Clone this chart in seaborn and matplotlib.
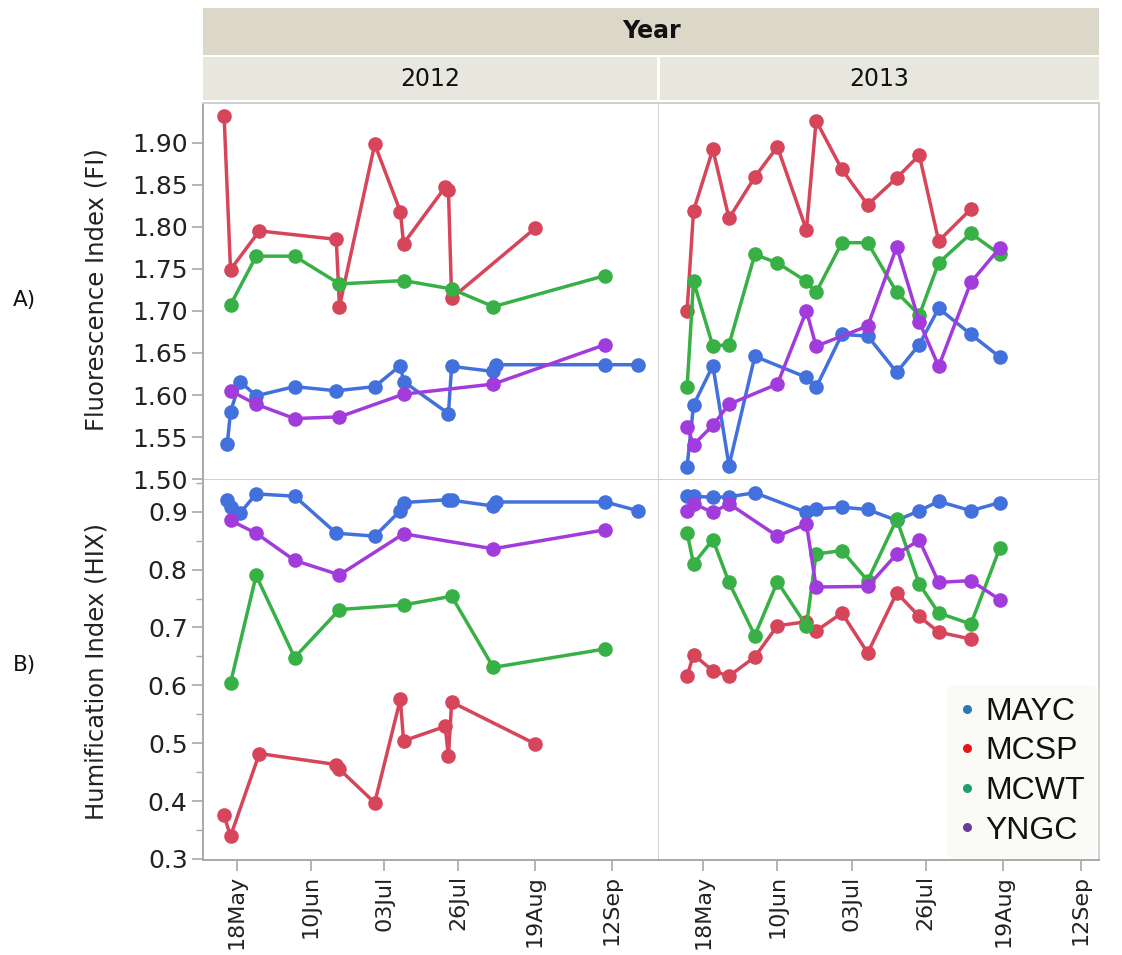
import pandas as pd
import matplotlib
matplotlib.use("Agg")
import matplotlib.pyplot as plt
import matplotlib.dates as mdates
from matplotlib.lines import Line2D
from matplotlib.ticker import MultipleLocator, FormatStrFormatter
import seaborn as sns

sns.set_theme(style="white")
plt.rcParams["font.family"] = ["DejaVu Sans"]

sites = ["MAYC", "MCSP", "MCWT", "YNGC"]
line_colors = {"MAYC": "#4270dc", "MCSP": "#d64559", "MCWT": "#37b045", "YNGC": "#a23bdc"}
legend_colors = {"MAYC": "#2a78b8", "MCSP": "#e8161b", "MCWT": "#1f9e6e", "YNGC": "#6a3d9a"}

# ---- 2012 sampling ----
mayc_2012_dates = ["2012-05-15", "2012-05-16", "2012-05-19", "2012-05-24", "2012-06-05",
                   "2012-06-18", "2012-06-30", "2012-07-08", "2012-07-09", "2012-07-23",
                   "2012-07-24", "2012-08-06", "2012-08-07", "2012-09-10", "2012-09-20"]
mayc_2012_fi = [1.542, 1.580, 1.616, 1.599, 1.610, 1.605, 1.610, 1.635, 1.616, 1.578,
                1.634, 1.628, 1.636, 1.636, 1.636]
mayc_2012_hix = [0.921, 0.908, 0.898, 0.931, 0.927, 0.863, 0.858, 0.902, 0.916, 0.921,
                 0.920, 0.910, 0.917, 0.917, 0.902]

mcsp_2012_dates = ["2012-05-14", "2012-05-16", "2012-05-25", "2012-06-18", "2012-06-19",
                   "2012-06-30", "2012-07-08", "2012-07-09", "2012-07-22", "2012-07-23",
                   "2012-07-24", "2012-08-19"]
mcsp_2012_fi = [1.932, 1.749, 1.795, 1.785, 1.705, 1.898, 1.818, 1.780, 1.847, 1.844,
                1.715, 1.798]
mcsp_2012_hix = [0.375, 0.339, 0.482, 0.463, 0.455, 0.397, 0.576, 0.504, 0.529, 0.477,
                 0.571, 0.499]

mcwt_2012_dates = ["2012-05-16", "2012-05-24", "2012-06-05", "2012-06-19", "2012-07-09",
                   "2012-07-24", "2012-08-06", "2012-09-10"]
mcwt_2012_fi = [1.707, 1.765, 1.765, 1.732, 1.736, 1.726, 1.705, 1.742]
mcwt_2012_hix = [0.604, 0.790, 0.648, 0.731, 0.739, 0.754, 0.631, 0.663]

yngc_2012_dates = ["2012-05-16", "2012-05-24", "2012-06-05", "2012-06-19", "2012-07-09",
                   "2012-08-06", "2012-09-10"]
yngc_2012_fi = [1.605, 1.589, 1.572, 1.574, 1.601, 1.613, 1.660]
yngc_2012_hix = [0.885, 0.863, 0.816, 0.791, 0.862, 0.836, 0.869]

# ---- 2013 sampling ----
mayc_2013_dates = ["2013-05-13", "2013-05-15", "2013-05-21", "2013-05-26", "2013-06-03",
                   "2013-06-19", "2013-06-22", "2013-06-30", "2013-07-08", "2013-07-17",
                   "2013-07-24", "2013-07-30", "2013-08-09", "2013-08-18"]
mayc_2013_fi = [1.515, 1.588, 1.635, 1.516, 1.646, 1.621, 1.609, 1.672, 1.670, 1.627,
                1.660, 1.703, 1.672, 1.645]
mayc_2013_hix = [0.927, 0.927, 0.925, 0.926, 0.933, 0.899, 0.905, 0.908, 0.904, 0.885,
                 0.902, 0.918, 0.902, 0.916]

mcsp_2013_dates = ["2013-05-13", "2013-05-15", "2013-05-21", "2013-05-26", "2013-06-03",
                   "2013-06-10", "2013-06-19", "2013-06-22", "2013-06-30", "2013-07-08",
                   "2013-07-17", "2013-07-24", "2013-07-30", "2013-08-09"]
mcsp_2013_fi = [1.700, 1.819, 1.892, 1.810, 1.859, 1.895, 1.796, 1.926, 1.868, 1.826,
                1.858, 1.885, 1.783, 1.821]
mcsp_2013_hix = [0.616, 0.653, 0.625, 0.616, 0.649, 0.703, 0.710, 0.694, 0.725, 0.656,
                 0.760, 0.719, 0.692, 0.680]

mcwt_2013_dates = ["2013-05-13", "2013-05-15", "2013-05-21", "2013-05-26", "2013-06-03",
                   "2013-06-10", "2013-06-19", "2013-06-22", "2013-06-30", "2013-07-08",
                   "2013-07-17", "2013-07-24", "2013-07-30", "2013-08-09", "2013-08-18"]
mcwt_2013_fi = [1.609, 1.735, 1.658, 1.660, 1.767, 1.757, 1.735, 1.722, 1.781, 1.781,
                1.722, 1.695, 1.757, 1.792, 1.767]
mcwt_2013_hix = [0.864, 0.810, 0.852, 0.778, 0.686, 0.779, 0.703, 0.827, 0.833, 0.781,
                 0.887, 0.775, 0.725, 0.706, 0.838]

yngc_2013_dates = ["2013-05-13", "2013-05-15", "2013-05-21", "2013-05-26", "2013-06-10",
                   "2013-06-19", "2013-06-22", "2013-07-08", "2013-07-17", "2013-07-24",
                   "2013-07-30", "2013-08-09", "2013-08-18"]
yngc_2013_fi = [1.562, 1.541, 1.564, 1.589, 1.613, 1.700, 1.658, 1.682, 1.776, 1.687,
                1.634, 1.734, 1.775]
yngc_2013_hix = [0.902, 0.914, 0.899, 0.914, 0.858, 0.879, 0.770, 0.771, 0.827, 0.851,
                 0.778, 0.781, 0.748]

tick_days = ["05-18", "06-10", "07-03", "07-26", "08-19", "09-12"]

# ---- long table ----
series = [
    ("MAYC", 2012, mayc_2012_dates, mayc_2012_fi, mayc_2012_hix),
    ("MCSP", 2012, mcsp_2012_dates, mcsp_2012_fi, mcsp_2012_hix),
    ("MCWT", 2012, mcwt_2012_dates, mcwt_2012_fi, mcwt_2012_hix),
    ("YNGC", 2012, yngc_2012_dates, yngc_2012_fi, yngc_2012_hix),
    ("MAYC", 2013, mayc_2013_dates, mayc_2013_fi, mayc_2013_hix),
    ("MCSP", 2013, mcsp_2013_dates, mcsp_2013_fi, mcsp_2013_hix),
    ("MCWT", 2013, mcwt_2013_dates, mcwt_2013_fi, mcwt_2013_hix),
    ("YNGC", 2013, yngc_2013_dates, yngc_2013_fi, yngc_2013_hix),
]
frames = []
for site, yr, d, fi, hix in series:
    frames.append(pd.DataFrame({"site": site, "year": yr, "date": pd.to_datetime(d),
                                "FI": fi, "HIX": hix}))
df = pd.concat(frames, ignore_index=True)

# ---- layout (pixel boxes converted to figure fractions) ----
W, H = 1122, 955
fig = plt.figure(figsize=(W / 100, H / 100), dpi=100)
fig.patch.set_facecolor("white")


def box(l, t, r, b):
    return [l / W, 1 - b / H, (r - l) / W, (b - t) / H]


def strip(rect, color, text, **kw):
    ax = fig.add_axes(box(*rect))
    ax.set_facecolor(color)
    ax.set_xticks([])
    ax.set_yticks([])
    for s in ax.spines.values():
        s.set_visible(False)
    ax.text(0.5, 0.5, text, ha="center", va="center", transform=ax.transAxes,
            color="#111111", **kw)
    return ax


strip((203, 8, 1099, 55), "#dbd8c9", "Year", fontsize=17, fontweight="bold")
strip((203, 57, 657, 100), "#e8e7dd", "2012", fontsize=17)
strip((660, 57, 1099, 100), "#e8e7dd", "2013", fontsize=17)

axes = {
    ("FI", 2012): fig.add_axes(box(203, 103, 659, 480)),
    ("FI", 2013): fig.add_axes(box(659, 103, 1099, 480)),
    ("HIX", 2012): fig.add_axes(box(203, 480, 659, 860)),
    ("HIX", 2013): fig.add_axes(box(659, 480, 1099, 860)),
}
xlims = {
    2012: (pd.Timestamp("2012-05-07 10:00"), pd.Timestamp("2012-09-26 17:00")),
    2013: (pd.Timestamp("2013-05-04 07:00"), pd.Timestamp("2013-09-17 17:00")),
}
ylims = {"FI": (1.499, 1.947), "HIX": (0.298, 0.955)}

for (var, yr), ax in axes.items():
    sub = df[df["year"] == yr]
    sns.lineplot(data=sub, x="date", y=var, hue="site", hue_order=sites,
                 palette=line_colors, marker="o", markersize=10.5, markeredgewidth=0,
                 linewidth=2.5, estimator=None, errorbar=None, legend=False, ax=ax)
    ax.set_facecolor("white")
    ax.set_xlim(*xlims[yr])
    ax.set_ylim(*ylims[var])
    ax.set_xlabel("")
    ax.set_ylabel("")
    for s in ax.spines.values():
        s.set_visible(True)
        s.set_color("#d0d0d0")
        s.set_linewidth(1.4)
    if yr == 2013:
        ax.spines["left"].set_visible(False)
    if var == "HIX":
        ax.spines["top"].set_visible(False)
    ax.set_xticks([pd.Timestamp(f"{yr}-{d}") for d in tick_days])
    ax.xaxis.set_major_formatter(mdates.DateFormatter("%d%b"))
    if var == "FI":
        ax.yaxis.set_major_locator(MultipleLocator(0.05))
        ax.yaxis.set_major_formatter(FormatStrFormatter("%.2f"))
        ax.tick_params(axis="x", bottom=False, labelbottom=False)
    else:
        ax.yaxis.set_major_locator(MultipleLocator(0.1))
        ax.yaxis.set_minor_locator(MultipleLocator(0.05))
        ax.yaxis.set_major_formatter(FormatStrFormatter("%.1f"))
        ax.spines["bottom"].set_color("#a8a8a8")
        ax.tick_params(axis="x", bottom=True, length=8, width=1.2, color="#a8a8a8",
                       labelsize=16, labelcolor="#222222", labelrotation=90, pad=3)
    if yr == 2012:
        ax.spines["left"].set_color("#a8a8a8")
        ax.tick_params(axis="y", which="major", left=True, length=8, width=1.2,
                       color="#a8a8a8", labelsize=18, labelcolor="#222222", pad=3)
        ax.tick_params(axis="y", which="minor", left=True, length=5, width=1.0,
                       color="#a8a8a8")
    else:
        ax.tick_params(axis="y", which="both", left=False, labelleft=False)

fig.text(97 / W, 1 - 290 / H, "Fluorescence Index (FI)", rotation=90, ha="center",
         va="center", fontsize=17.5, color="#222222")
fig.text(97 / W, 1 - 671 / H, "Humification Index (HIX)", rotation=90, ha="center",
         va="center", fontsize=17.5, color="#222222")
fig.text(24 / W, 1 - 300 / H, "A)", ha="center", va="center", fontsize=15.5, color="#111111")
fig.text(24 / W, 1 - 665 / H, "B)", ha="center", va="center", fontsize=15.5, color="#111111")

handles = [Line2D([], [], marker="o", linestyle="", markersize=6.5, markeredgewidth=0,
                  color=legend_colors[s], label=s) for s in sites]
leg = axes[("HIX", 2013)].legend(
    handles=handles, loc="lower right", frameon=True, handlelength=0.6,
    handletextpad=0.25, labelspacing=0.3, borderaxespad=0.1, borderpad=0.35,
    prop={"family": "Liberation Sans", "size": 23})
leg.get_frame().set_facecolor("#f9f9f5")
leg.get_frame().set_edgecolor("#f9f9f5")
for t in leg.get_texts():
    t.set_color("#111111")

fig.savefig("out.png", dpi=100, facecolor="white")
